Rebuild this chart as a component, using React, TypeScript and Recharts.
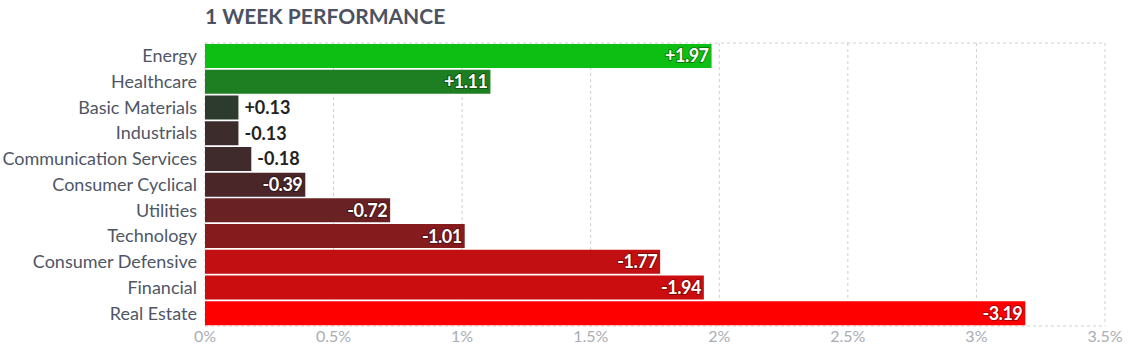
import { BarChart, Bar, XAxis, YAxis, CartesianGrid, Cell, LabelList } from 'recharts';

const sectors = [
  'Energy',
  'Healthcare',
  'Basic Materials',
  'Industrials',
  'Communication Services',
  'Consumer Cyclical',
  'Utilities',
  'Technology',
  'Consumer Defensive',
  'Financial',
  'Real Estate',
];
const changes = [1.97, 1.11, 0.13, -0.13, -0.18, -0.39, -0.72, -1.01, -1.77, -1.94, -3.19];
const barColors = [
  '#0cbf12',
  '#1e7e22',
  '#2d3a2e',
  '#3d2c2c',
  '#3f2b2b',
  '#4a2628',
  '#6a2123',
  '#861b1e',
  '#c10f12',
  '#cc0d0f',
  '#ff0000',
];
const xTicks = [0, 0.5, 1, 1.5, 2, 2.5, 3, 3.5];

const data = sectors.map((name, i) => ({
  name,
  change: changes[i],
  size: Math.abs(changes[i]),
}));

const FONT = 'Lato, "Open Sans", sans-serif';

function ValueLabel(props: any) {
  const { x, y, width, height, index } = props;
  const v = changes[index];
  const text = (v > 0 ? '+' : '') + v.toFixed(2);
  const cy = y + height / 2;
  if (width > 60) {
    return (
      <text
        x={x + width - 3}
        y={cy}
        dy="0.36em"
        textAnchor="end"
        fill="#fff"
        stroke="rgba(0,0,0,0.35)"
        strokeWidth={2}
        paintOrder="stroke"
        fontFamily={FONT}
        fontWeight={700}
        fontSize={18}
        letterSpacing={-0.5}
      >
        {text}
      </text>
    );
  }
  return (
    <text
      x={x + width + 6}
      y={cy}
      dy="0.36em"
      textAnchor="start"
      fill="#222"
      fontFamily={FONT}
      fontWeight={700}
      fontSize={18}
    >
      {text}
    </text>
  );
}

export default function App() {
  return (
    <div style={{ position: 'absolute', left: 0, top: 0, width: 1131, height: 352, background: '#fff' }}>
      <div
        style={{
          position: 'absolute',
          left: 205,
          top: 3,
          fontFamily: FONT,
          fontWeight: 700,
          fontSize: 21,
          color: '#4b5262',
        }}
      >
        1 WEEK PERFORMANCE
      </div>
      <BarChart
        width={1131}
        height={352}
        data={data}
        layout="vertical"
        margin={{ top: 43, right: 26, bottom: 6, left: 0 }}
        barCategoryGap={1}
      >
        <CartesianGrid
          stroke="#cfcfcf"
          strokeDasharray="3 3"
          horizontalCoordinatesGenerator={({ offset }: any) => [offset.top, offset.top + offset.height]}
        />
        <XAxis
          type="number"
          dataKey="size"
          domain={[0, 3.5]}
          ticks={xTicks}
          tickFormatter={(v: number) => `${v}%`}
          axisLine={false}
          tickLine={false}
          tickSize={0}
          tickMargin={5}
          height={20}
          tick={{ fill: '#a9adb4', fontSize: 16, fontFamily: FONT }}
          interval={0}
        />
        <YAxis
          type="category"
          dataKey="name"
          width={205}
          axisLine={false}
          tickLine={false}
          interval={0}
          tick={{ fill: '#4f5666', fontSize: 18, fontFamily: FONT }}
        />
        <Bar dataKey="size" isAnimationActive={false}>
          {data.map((d, i) => (
            <Cell key={d.name} fill={barColors[i]} />
          ))}
          <LabelList dataKey="size" content={ValueLabel} />
        </Bar>
      </BarChart>
    </div>
  );
}
